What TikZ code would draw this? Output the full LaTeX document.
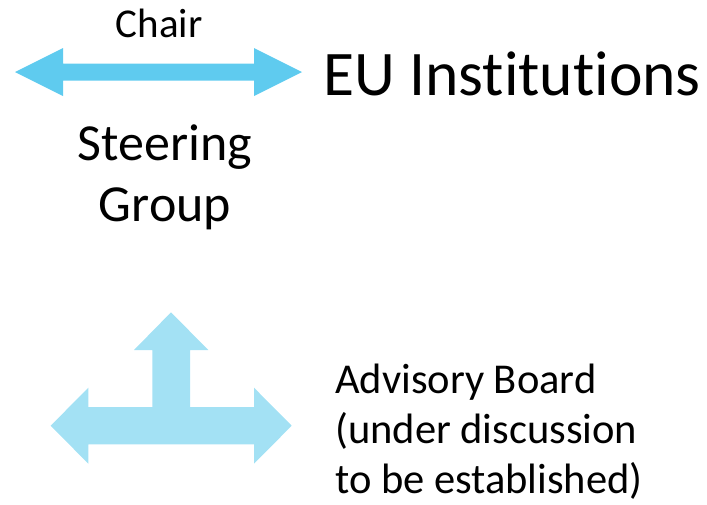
\documentclass[tikz,border=0pt]{standalone}
\usepackage{fontspec}
\setmainfont{Carlito}[Ligatures=NoCommon]
\definecolor{chairblue}{HTML}{5FCBEF}
\definecolor{boardblue}{HTML}{A3E1F4}
\begin{document}
\begin{tikzpicture}[x=1pt,y=-1pt,inner sep=0pt,
    label/.style={anchor=base,align=center}]
  \useasboundingbox (0,0) rectangle (707,504);
  \fill[chairblue] (15,72) -- (63,48) -- (63,63.5) -- (254,63.5) -- (254,48) -- (302,72)
    -- (254,96) -- (254,80.5) -- (63,80.5) -- (63,96) -- cycle;
  \fill[boardblue] (50.7,425.7) -- (88.3,387.7) -- (88.3,407) -- (152.3,407) -- (152.3,350)
    -- (134,350) -- (171,312.3) -- (208.3,350) -- (190,350) -- (190,407) -- (254,407)
    -- (254,387.7) -- (291.7,425.7) -- (254,463.7) -- (254,444.4) -- (88.3,444.4)
    -- (88.3,463.7) -- cycle;
  \node[label,font=\fontsize{41}{49}\selectfont] (chair) at (159,37) {Chair};
  \node[label,anchor=base west,font=\fontsize{63.5}{75}\selectfont] (eu) at (323,95) {EU Institutions};
  \node[label,font=\fontsize{52}{61}\selectfont] (steering) at (165,221) {Steering\\Group};
  \node[label,anchor=base west,align=left,font=\fontsize{42.5}{50}\selectfont] (board) at (335,493)
    {Advisory Board\\(under discussion\\to be established)};
\end{tikzpicture}
\end{document}
